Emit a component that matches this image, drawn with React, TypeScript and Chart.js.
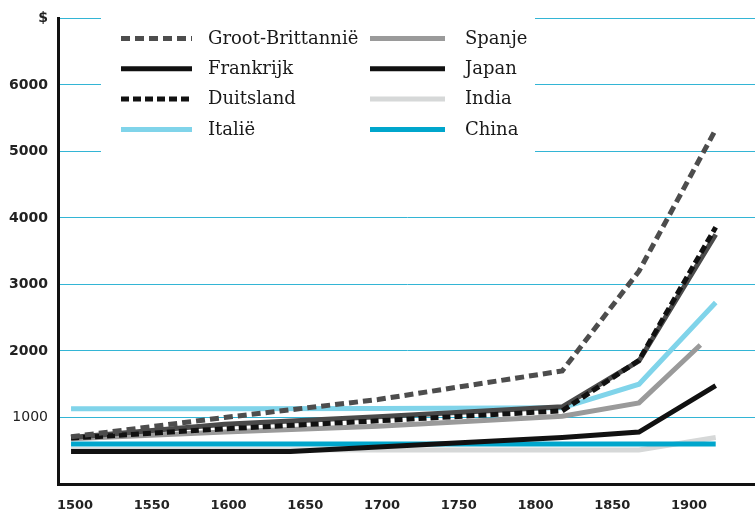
import React, { useEffect, useRef } from 'react';
import { Chart, registerables } from 'chart.js';

Chart.register(...registerables);

// ---- data ----
const years = [1500, 1600, 1700, 1820, 1870, 1920];
const japanYears = [1500, 1643, 1820, 1870, 1920];
const spainYears = [1500, 1600, 1700, 1820, 1870, 1910];
const xTicks = [1500, 1550, 1600, 1650, 1700, 1750, 1800, 1850, 1900];
const yTicks = [0, 1000, 2000, 3000, 4000, 5000, 6000, 7000];

const grootBrittannie = [710, 1000, 1270, 1700, 3200, 5330];
const frankrijk = [700, 900, 1010, 1160, 1850, 3750];
const duitsland = [690, 830, 950, 1100, 1860, 3860];
const italie = [1130, 1130, 1135, 1145, 1500, 2730];
const spanje = [680, 780, 870, 1020, 1220, 2090];
const japan = [490, 490, 700, 780, 1480];
const india = [515, 515, 512, 510, 510, 700];
const china = [600, 600, 600, 600, 600, 600];

const pts = (xs: number[], ys: number[]) => xs.map((x, i) => ({ x, y: ys[i] }));

const legendPlugin = {
  id: 'customLegend',
  beforeDatasetsDraw(chart: any) {
    const ctx = chart.ctx as CanvasRenderingContext2D;
    ctx.save();
    ctx.fillStyle = '#ffffff';
    ctx.fillRect(101, 8, 434, 152);
    const colLine = [121, 370];
    const colText = [208, 465];
    const lineLen = [71, 75];
    chart.data.datasets.forEach((ds: any, i: number) => {
      const col = Math.floor(i / 4);
      const row = i % 4;
      const y = 38.5 + row * 30.3;
      ctx.beginPath();
      ctx.lineWidth = ds.borderWidth;
      ctx.strokeStyle = ds.legendColor || ds.borderColor;
      ctx.lineCap = 'butt';
      ctx.setLineDash(ds.borderDash || []);
      ctx.moveTo(colLine[col], y);
      ctx.lineTo(colLine[col] + lineLen[col], y);
      ctx.stroke();
      ctx.setLineDash([]);
      ctx.fillStyle = '#1a1a1a';
      ctx.font = '18px "DejaVu Serif"';
      ctx.textBaseline = 'middle';
      ctx.textAlign = 'left';
      ctx.fillText(ds.label, colText[col], y + 0.5);
    });
    ctx.restore();
  },
};

export default function App() {
  const ref = useRef<HTMLCanvasElement>(null);
  useEffect(() => {
    document.body.style.margin = '0';
    const common = { pointRadius: 0, borderWidth: 5, tension: 0, fill: false, borderCapStyle: 'butt', borderJoinStyle: 'miter' };
    const chart = new Chart(ref.current as HTMLCanvasElement, {
      type: 'line',
      data: {
        datasets: [
          { ...common, label: 'Groot-Brittannië', data: pts(years, grootBrittannie), borderColor: '#4d4d4d', borderDash: [9, 5], order: 0 },
          { ...common, label: 'Frankrijk', data: pts(years, frankrijk), borderColor: '#4a4a4a', legendColor: '#111111', order: 2 },
          { ...common, label: 'Duitsland', data: pts(years, duitsland), borderColor: '#111111', borderDash: [8, 4], order: 1 },
          { ...common, label: 'Italië', data: pts(years, italie), borderColor: '#80d4ea', order: 3 },
          { ...common, label: 'Spanje', data: pts(spainYears, spanje), borderColor: '#9a9a9a', order: 4 },
          { ...common, label: 'Japan', data: pts(japanYears, japan), borderColor: '#111111', order: 5 },
          { ...common, label: 'India', data: pts(years, india), borderColor: '#d6d8d8', order: 7 },
          { ...common, label: 'China', data: pts(years, china), borderColor: '#00a6cc', order: 6 },
        ] as any,
      },
      options: {
        responsive: false,
        animation: false,
        layout: { padding: { top: 17, left: 0, right: 0, bottom: 0 } },
        plugins: { legend: { display: false }, tooltip: { enabled: false } },
        scales: {
          x: {
            type: 'linear',
            min: 1491.5,
            max: 1945.6,
            afterBuildTicks: (s: any) => { s.ticks = xTicks.map((v) => ({ value: v })); },
            afterFit: (s: any) => { s.height = 32; },
            grid: { display: false, drawTicks: false },
            border: { display: true, color: '#111111', width: 3 },
            ticks: {
              autoSkip: false,
              maxRotation: 0,
              padding: 14,
              labelOffset: 4,
              color: '#222222',
              font: { family: 'DejaVu Sans', weight: 'bold', size: 13 },
              callback: (v: any) => String(v),
            },
          },
          y: {
            min: 0,
            max: 7000,
            afterBuildTicks: (s: any) => { s.ticks = yTicks.map((v) => ({ value: v })); },
            afterFit: (s: any) => { s.width = 58; },
            grid: { color: '#33b5d5', lineWidth: 1, drawTicks: false },
            border: { display: true, color: '#111111', width: 3 },
            ticks: {
              padding: 10,
              color: '#222222',
              font: (c: any) => (c.tick && c.tick.value === 1000
                ? { family: 'DejaVu Sans', size: 14, weight: 'normal' }
                : { family: 'DejaVu Sans', size: 14, weight: 'bold' }),
              callback: (v: any) => (v === 0 ? '' : v === 7000 ? '$' : String(v)),
            },
          },
        },
      } as any,
      plugins: [legendPlugin],
    });
    return () => chart.destroy();
  }, []);
  return <canvas ref={ref} width={755} height={516} style={{ display: 'block', width: 755, height: 516 }} />;
}
